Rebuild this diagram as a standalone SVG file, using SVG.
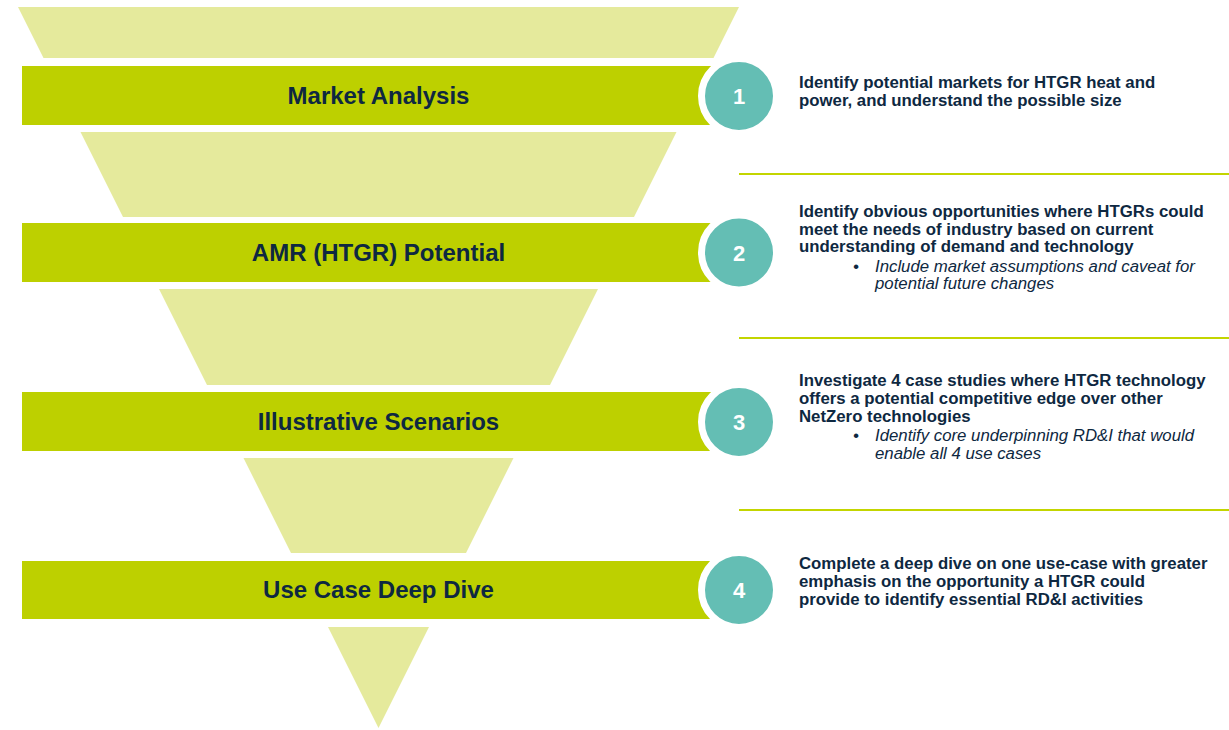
<svg xmlns="http://www.w3.org/2000/svg" width="1229" height="730" viewBox="0 0 1229 730">
<style>
.seg{fill:#E5EA9C}
.bar{fill:#BDD000}
.num{fill:#64BEB4;stroke:#FFFFFF;stroke-width:7}
.lbl{font-family:"Liberation Sans",Arial,sans-serif;font-weight:bold;font-size:24px;fill:#0E2841;text-anchor:middle}
.n{font-family:"Liberation Sans",Arial,sans-serif;font-weight:bold;font-size:22px;fill:#FFFFFF;text-anchor:middle}
.desc{font-family:"Liberation Sans",Arial,sans-serif;font-weight:bold;font-size:16.8px;fill:#0E2841}
.sub{font-family:"Liberation Sans",Arial,sans-serif;font-style:italic;font-size:16.8px;fill:#0E2841}
.div{stroke:#C3D500;stroke-width:2}
</style>
<rect width="1229" height="730" fill="#FFFFFF"/>
<g id="funnel">
<polygon class="seg" points="18,7 739,7 713.5,58 43.5,58"/>
<polygon class="seg" points="80.5,132 676.5,132 634,217 123,217"/>
<polygon class="seg" points="159,289 598,289 550,385 207,385"/>
<polygon class="seg" points="243.5,458 513.5,458 466,553 291,553"/>
<polygon class="seg" points="328,627 429,627 378.5,728"/>
</g>
<g id="connectors">
<line class="div" x1="739" y1="174" x2="1229" y2="174"/>
<line class="div" x1="739" y1="338" x2="1229" y2="338"/>
<line class="div" x1="739" y1="510" x2="1229" y2="510"/>
</g>
<g id="step1">
<rect class="bar" x="22" y="66" width="717" height="59"/>
<circle class="num" cx="739" cy="96" r="37.5"/>
<text class="lbl" x="378.5" y="104">Market Analysis</text>
<text class="n" x="739" y="104">1</text>
<text class="desc" x="799"><tspan x="799" y="88">Identify potential markets for HTGR heat and</tspan><tspan x="799" y="106">power, and understand the possible size</tspan></text>
</g>
<g id="step2">
<rect class="bar" x="22" y="223" width="717" height="59"/>
<circle class="num" cx="739" cy="252.5" r="37.5"/>
<text class="lbl" x="378.5" y="261">AMR (HTGR) Potential</text>
<text class="n" x="739" y="260.5">2</text>
<text class="desc"><tspan x="799" y="217">Identify obvious opportunities where HTGRs could</tspan><tspan x="799" y="234.5">meet the needs of industry based on current</tspan><tspan x="799" y="252">understanding of demand and technology</tspan></text>
<text class="sub" x="853" y="271.5">•</text>
<text class="sub"><tspan x="875" y="271.5">Include market assumptions and caveat for</tspan><tspan x="875" y="289">potential future changes</tspan></text>
</g>
<g id="step3">
<rect class="bar" x="22" y="392" width="717" height="59"/>
<circle class="num" cx="739" cy="422" r="37.5"/>
<text class="lbl" x="378.5" y="430">Illustrative Scenarios</text>
<text class="n" x="739" y="430">3</text>
<text class="desc"><tspan x="799" y="386">Investigate 4 case studies where HTGR technology</tspan><tspan x="799" y="404">offers a potential competitive edge over other</tspan><tspan x="799" y="422">NetZero technologies</tspan></text>
<text class="sub" x="853" y="441">•</text>
<text class="sub"><tspan x="875" y="441">Identify core underpinning RD&amp;I that would</tspan><tspan x="875" y="459">enable all 4 use cases</tspan></text>
</g>
<g id="step4">
<rect class="bar" x="22" y="561" width="717" height="58"/>
<circle class="num" cx="739" cy="590" r="37.5"/>
<text class="lbl" x="378.5" y="598">Use Case Deep Dive</text>
<text class="n" x="739" y="598">4</text>
<text class="desc"><tspan x="799" y="569">Complete a deep dive on one use-case with greater</tspan><tspan x="799" y="587">emphasis on the opportunity a HTGR could</tspan><tspan x="799" y="605">provide to identify essential RD&amp;I activities</tspan></text>
</g>
</svg>
